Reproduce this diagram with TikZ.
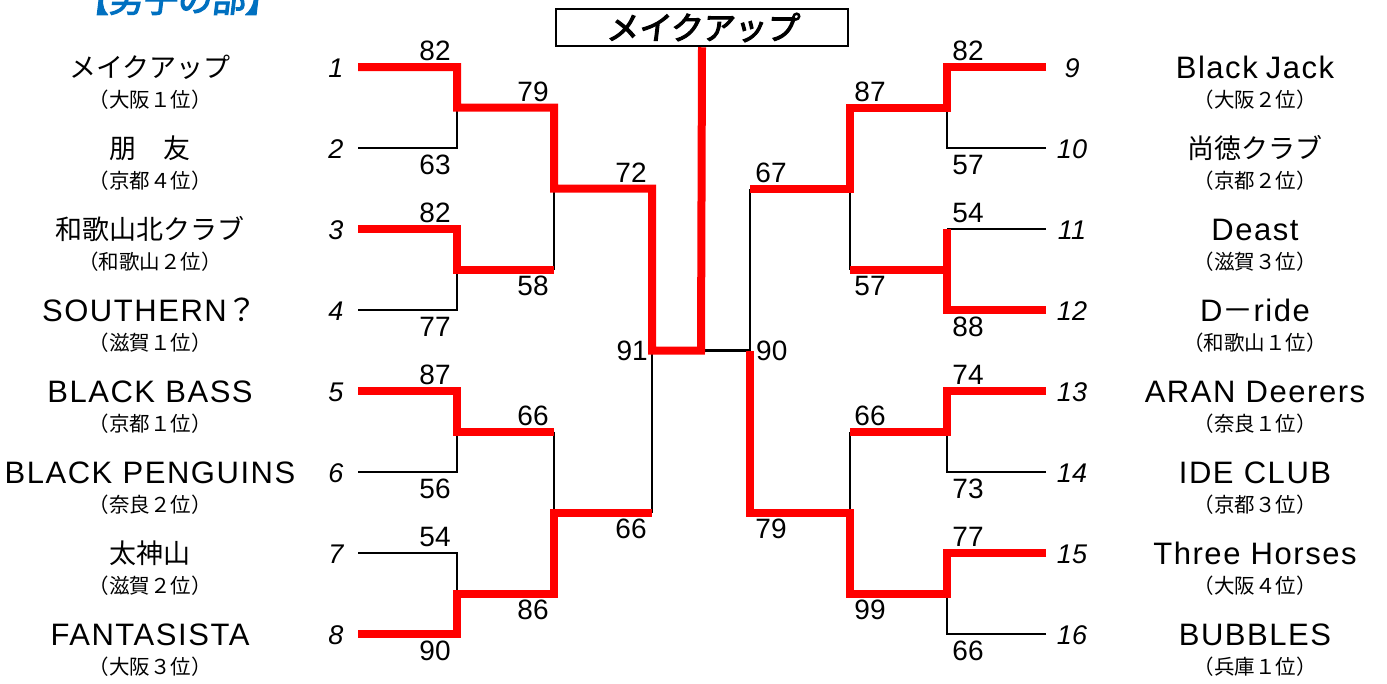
\documentclass[tikz,border=0pt]{standalone}
\usepackage{fontspec}
\setmainfont{Liberation Sans}
\newfontfamily\latn[LetterSpace=5]{Liberation Sans}
\newfontfamily\cjk{Noto Sans CJK JP}
\newfontfamily\cjkb[FakeBold=3.5,FakeSlant=0.12]{Noto Sans CJK JP}
\definecolor{ttlblue}{RGB}{0,112,192}
\begin{document}
\begin{tikzpicture}[x=1pt,y=-1pt,
  win/.style={draw=red, line width=8pt, line join=miter},
  lose/.style={draw=black, line width=2.6pt},
  score/.style={font=\fontsize{28}{28}\selectfont, inner sep=0pt},
  up/.style={score, anchor=south},
  lo/.style={score, anchor=base},
  seed/.style={font=\itshape\fontsize{27}{27}\selectfont, inner sep=0pt, anchor=base},
  tname/.style={font=\latn\fontsize{31}{31}\selectfont, inner sep=0pt, anchor=base},
  jname/.style={font=\cjk\fontsize{27}{27}\selectfont, inner sep=0pt, anchor=base},
  subn/.style={font=\cjk\fontsize{20.5}{20.5}\selectfont, inner sep=0pt, anchor=base},
]
\useasboundingbox (0,0) rectangle (1387,683);
\fill[white] (0,0) rectangle (1387,683);

% title
\node[font=\cjkb\fontsize{34}{34}\selectfont, text=ttlblue, inner sep=0pt] (ttl) at (177,-1) {【男子の部】};

% champion box
\node[draw, line width=2.5pt, minimum width=292pt, minimum height=37pt, inner sep=0pt,
      font=\cjkb\fontsize{32}{32}\selectfont] (champ) at (702,27.5) {メイクアップ};

% ---------- coordinates left ----------
\coordinate (L1) at (358,67);  \coordinate (J1) at (457,67);
\coordinate (L2) at (358,148); \coordinate (J2) at (457,148);
\coordinate (L3) at (358,229); \coordinate (J3) at (457,229);
\coordinate (L4) at (358,310); \coordinate (J4) at (457,310);
\coordinate (L5) at (358,391); \coordinate (J5) at (457,391);
\coordinate (L6) at (358,472); \coordinate (J6) at (457,472);
\coordinate (L7) at (358,553); \coordinate (J7) at (457,553);
\coordinate (L8) at (358,634); \coordinate (J8) at (457,634);
\coordinate (M12) at (457,107.5); \coordinate (N12) at (554,107.5);
\coordinate (M34) at (457,269.5); \coordinate (N34) at (554,269.5);
\coordinate (M56) at (457,431.5); \coordinate (N56) at (554,431.5);
\coordinate (M78) at (457,593.5); \coordinate (N78) at (554,593.5);
\coordinate (Q1) at (554,188.5); \coordinate (P1) at (652,188.5);
\coordinate (Q2) at (554,512.5); \coordinate (P2) at (652,512.5);
\coordinate (F1) at (652,350.5); \coordinate (C) at (701,350.5);
% ---------- coordinates right ----------
\coordinate (R9) at (1046,67);   \coordinate (K9) at (947,67);
\coordinate (R10) at (1046,148); \coordinate (K10) at (947,148);
\coordinate (R11) at (1046,229); \coordinate (K11) at (947,229);
\coordinate (R12) at (1046,310); \coordinate (K12) at (947,310);
\coordinate (R13) at (1046,391); \coordinate (K13) at (947,391);
\coordinate (R14) at (1046,472); \coordinate (K14) at (947,472);
\coordinate (R15) at (1046,553); \coordinate (K15) at (947,553);
\coordinate (R16) at (1046,634); \coordinate (K16) at (947,634);
\coordinate (MM910) at (947,107.5);  \coordinate (NN910) at (850,107.5);
\coordinate (MM1112) at (947,269.5); \coordinate (NN1112) at (850,269.5);
\coordinate (MM1314) at (947,431.5); \coordinate (NN1314) at (850,431.5);
\coordinate (MM1516) at (947,593.5); \coordinate (NN1516) at (850,593.5);
\coordinate (QQ1) at (850,188.5); \coordinate (PP1) at (750,188.5);
\coordinate (QQ2) at (850,512.5); \coordinate (PP2) at (750,512.5);
\coordinate (FF) at (750,350.5);

% ---------- black lines ----------
\draw[lose] (L2) -- (J2) -- (M12);
\draw[lose] (L4) -- (J4) -- (M34);
\draw[lose] (L6) -- (J6) -- (M56);
\draw[lose] (L7) -- (J7) -- (M78);
\draw[lose] (N34) -- (Q1);
\draw[lose] (N56) -- (Q2);
\draw[lose] (F1) -- (P2);
\draw[lose] (C) -- (FF) -- (PP1);
\draw[lose] (R10) -- (K10) -- (MM910);
\draw[lose] (R11) -- (K11);
\draw[lose] (R14) -- (K14) -- (MM1314);
\draw[lose] (R16) -- (K16) -- (MM1516);
\draw[lose] (NN1112) -- (QQ1);
\draw[lose] (NN1314) -- (QQ2);

% ---------- red lines ----------
\draw[win] (L1) -- (J1) -- (M12) -- (N12) -- (Q1) -- (P1) -- (F1) -- (C) -- (champ.south);
\draw[win] (L3) -- (J3) -- (M34) -- (N34);
\draw[win] (L5) -- (J5) -- (M56) -- (N56);
\draw[win] (L8) -- (J8) -- (M78) -- (N78) -- (Q2) -- (P2);
\draw[win] (R9) -- (K9) -- (MM910) -- (NN910) -- (QQ1) -- (PP1);
\draw[win] (R12) -- (K12) -- (K11);
\draw[win] (MM1112) -- (NN1112);
\draw[win] (R13) -- (K13) -- (MM1314) -- (NN1314);
\draw[win] (R15) -- (K15) -- (MM1516) -- (NN1516) -- (QQ2) -- (PP2) -- (FF);

% ---------- scores left ----------
\node[up] (s1) at (435,61) {82};
\node[lo] (s2) at (435,174) {63};
\node[up] (s3) at (435,223) {82};
\node[lo] (s4) at (435,336) {77};
\node[up] (s5) at (435,385) {87};
\node[lo] (s6) at (435,498) {56};
\node[up] (s7) at (435,547) {54};
\node[lo] (s8) at (435,660) {90};
\node[up] (s9) at (533,101.5) {79};
\node[lo] (s10) at (533,295.5) {58};
\node[up] (s11) at (533,425.5) {66};
\node[lo] (s12) at (533,619.5) {86};
\node[up] (s13) at (631,182.5) {72};
\node[lo] (s14) at (631,538.5) {66};
\node[score, anchor=base east] (s15) at (648,360.5) {91};
% ---------- scores right ----------
\node[up] (t1) at (968,61) {82};
\node[lo] (t2) at (968,174) {57};
\node[up] (t3) at (968,223) {54};
\node[lo] (t4) at (968,336) {88};
\node[up] (t5) at (968,385) {74};
\node[lo] (t6) at (968,498) {73};
\node[up] (t7) at (968,547) {77};
\node[lo] (t8) at (968,660) {66};
\node[up] (t9) at (870,101.5) {87};
\node[lo] (t10) at (870,295.5) {57};
\node[up] (t11) at (870,425.5) {66};
\node[lo] (t12) at (870,619.5) {99};
\node[up] (t13) at (771,182.5) {67};
\node[lo] (t14) at (771,538.5) {79};
\node[score, anchor=base west] (t15) at (756,360.5) {90};

% ---------- seeds ----------
\node[seed] (n1) at (336,77) {1};
\node[seed] (n2) at (336,158) {2};
\node[seed] (n3) at (336,239) {3};
\node[seed] (n4) at (336,320) {4};
\node[seed] (n5) at (336,401) {5};
\node[seed] (n6) at (336,482) {6};
\node[seed] (n7) at (336,563) {7};
\node[seed] (n8) at (336,644) {8};
\node[seed] (n9) at (1072,77) {9};
\node[seed] (n10) at (1072,158) {10};
\node[seed] (n11) at (1072,239) {11};
\node[seed] (n12) at (1072,320) {12};
\node[seed] (n13) at (1072,401) {13};
\node[seed] (n14) at (1072,482) {14};
\node[seed] (n15) at (1072,563) {15};
\node[seed] (n16) at (1072,644) {16};

% ---------- team names left ----------
\node[jname] (a1) at (150,77) {メイクアップ};
\node[subn] (b1) at (150,107) {（大阪１位）};
\node[jname] (a2) at (150,158) {朋　友};
\node[subn] (b2) at (150,188) {（京都４位）};
\node[jname] (a3) at (150,239) {和歌山北クラブ};
\node[subn] (b3) at (150,269) {（和歌山２位）};
\node[tname] (a4) at (150,321) {SOUTHERN{\cjk ？}};
\node[subn] (b4) at (150,350) {（滋賀１位）};
\node[tname] (a5) at (150,402) {BLACK BASS};
\node[subn] (b5) at (150,431) {（京都１位）};
\node[tname] (a6) at (150,483) {BLACK PENGUINS};
\node[subn] (b6) at (150,512) {（奈良２位）};
\node[jname] (a7) at (150,563) {太神山};
\node[subn] (b7) at (150,593) {（滋賀２位）};
\node[tname] (a8) at (150,645) {FANTASISTA};
\node[subn] (b8) at (150,674) {（大阪３位）};
% ---------- team names right ----------
\node[tname] (a9) at (1255,78) {Black\hspace{8pt}Jack};
\node[subn] (b9) at (1255,107) {（大阪２位）};
\node[jname] (a10) at (1255,158) {尚徳クラブ};
\node[subn] (b10) at (1255,188) {（京都２位）};
\node[tname] (a11) at (1255,240) {Deast};
\node[subn] (b11) at (1255,269) {（滋賀３位）};
\node[tname] (a12) at (1255,321) {D{\cjk －}ride};
\node[subn] (b12) at (1255,350) {（和歌山１位）};
\node[tname] (a13) at (1255,402) {ARAN Deerers};
\node[subn] (b13) at (1255,431) {（奈良１位）};
\node[tname] (a14) at (1255,483) {IDE CLUB};
\node[subn] (b14) at (1255,512) {（京都３位）};
\node[tname] (a15) at (1255,564) {Three Horses};
\node[subn] (b15) at (1255,593) {（大阪４位）};
\node[tname] (a16) at (1255,645) {BUBBLES};
\node[subn] (b16) at (1255,674) {（兵庫１位）};
\end{tikzpicture}
\end{document}
